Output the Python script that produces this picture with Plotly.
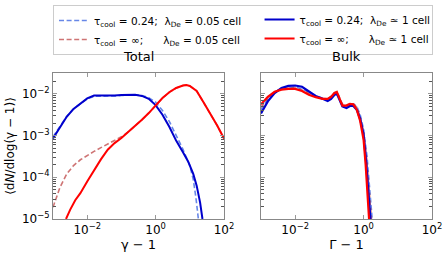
import numpy as np
import plotly.graph_objects as go
from plotly.subplots import make_subplots

# ---------------- data (log10 values) ----------------
tot_blue_solid_lx = [-3.0, -2.8, -2.6, -2.4, -2.2, -2.0, -1.8, -1.6, -1.4, -1.2, -1.0, -0.8, -0.6, -0.4, -0.2, 0.0, 0.2, 0.4, 0.6, 0.8, 0.95, 1.1, 1.2, 1.3, 1.37]
tot_blue_solid_ly = [-3.07, -2.82, -2.55, -2.36, -2.23, -2.11, -2.04, -2.04, -2.05, -2.04, -2.03, -2.02, -2.02, -2.05, -2.12, -2.27, -2.50, -2.79, -3.12, -3.40, -3.62, -3.92, -4.2, -4.6, -5.0]

tot_blue_dash_lx = [-3.0, -2.8, -2.6, -2.4, -2.2, -2.0, -1.8, -1.6, -1.4, -1.2, -1.0, -0.8, -0.6, -0.4, -0.2, 0.0, 0.2, 0.4, 0.6, 0.8, 1.0, 1.1, 1.18, 1.25]
tot_blue_dash_ly = [-3.03, -2.79, -2.54, -2.36, -2.24, -2.12, -2.06, -2.06, -2.06, -2.05, -2.04, -2.03, -2.02, -2.04, -2.09, -2.20, -2.40, -2.66, -2.98, -3.33, -3.72, -4.05, -4.5, -5.0]

tot_red_solid_lx = [-2.62, -2.5, -2.35, -2.2, -2.0, -1.8, -1.6, -1.4, -1.2, -1.0, -0.8, -0.6, -0.4, -0.2, 0.0, 0.2, 0.4, 0.6, 0.8, 0.9, 1.0, 1.2, 1.4, 1.6, 1.8, 2.0]
tot_red_solid_ly = [-5.0, -4.78, -4.55, -4.38, -4.1, -3.83, -3.57, -3.34, -3.18, -3.06, -2.92, -2.77, -2.62, -2.46, -2.27, -2.10, -1.96, -1.86, -1.80, -1.79, -1.81, -1.93, -2.20, -2.47, -2.76, -3.07]

tot_red_dash_lx = [-3.0, -2.8, -2.6, -2.4, -2.2, -2.0, -1.8, -1.6, -1.4, -1.2, -1.0, -0.8, -0.6, -0.4, -0.2, 0.0, 0.2, 0.4, 0.6, 0.8, 0.9, 1.0, 1.2, 1.4, 1.6, 1.8, 2.0]
tot_red_dash_ly = [-4.72, -4.25, -3.92, -3.72, -3.58, -3.47, -3.38, -3.29, -3.2, -3.1, -3.03, -2.91, -2.77, -2.62, -2.46, -2.27, -2.10, -1.96, -1.86, -1.80, -1.79, -1.81, -1.93, -2.20, -2.47, -2.76, -3.07]

blk_lx = [-3.0, -2.8, -2.6, -2.4, -2.2, -2.0, -1.8, -1.6, -1.4, -1.2, -1.05, -0.95, -0.85, -0.78, -0.7, -0.62, -0.5, -0.4, -0.3, -0.2, -0.1, 0.0]
blk_blue_solid_ly = [-2.47, -2.18, -1.98, -1.86, -1.81, -1.80, -1.83, -1.93, -2.05, -2.12, -2.17, -2.12, -2.02, -2.0, -2.15, -2.30, -2.34, -2.29, -2.29, -2.38, -2.60, -2.98]
blk_blue_solid_tail_lx = [0.07, 0.13, 0.2]
blk_blue_solid_tail_ly = [-3.6, -4.3, -5.0]

blk_red_solid_ly = [-2.25, -2.07, -1.95, -1.90, -1.88, -1.88, -1.93, -2.02, -2.08, -2.12, -2.12, -2.07, -1.98, -1.96, -2.12, -2.28, -2.28, -2.24, -2.25, -2.38, -2.65, -3.10]
blk_red_solid_tail_lx = [0.06, 0.11, 0.16]
blk_red_solid_tail_ly = [-3.7, -4.4, -5.0]

blk_blue_dash_ly = [-2.38, -2.12, -1.96, -1.87, -1.84, -1.84, -1.88, -1.97, -2.05, -2.10, -2.13, -2.08, -1.98, -1.96, -2.11, -2.26, -2.29, -2.25, -2.24, -2.30, -2.50, -2.85]
blk_blue_dash_tail_lx = [0.1, 0.18, 0.25]
blk_blue_dash_tail_ly = [-3.5, -4.3, -5.0]

blk_red_dash_ly = [-2.32, -2.1, -1.95, -1.88, -1.86, -1.86, -1.91, -1.99, -2.06, -2.11, -2.12, -2.06, -1.97, -1.94, -2.10, -2.25, -2.27, -2.24, -2.24, -2.32, -2.55, -2.92]
blk_red_dash_tail_lx = [0.09, 0.16, 0.23]
blk_red_dash_tail_ly = [-3.55, -4.35, -5.0]

legend_names = [
    "τ<sub>cool</sub> = 0.24;  λ<sub>De</sub> = 0.05 cell",
    "τ<sub>cool</sub> = 0.24;  λ<sub>De</sub> ≃ 1 cell",
    "τ<sub>cool</sub> = ∞;      λ<sub>De</sub> = 0.05 cell",
    "τ<sub>cool</sub> = ∞;      λ<sub>De</sub> ≃ 1 cell",
]
x_tickvals = [1e-2, 1e0, 1e2]
x_ticktext = ["10<sup>−2</sup>", "10<sup>0</sup>", "10<sup>2</sup>"]
y_tickvals = [1e-5, 1e-4, 1e-3, 1e-2]
y_ticktext = ["10<sup>−5</sup>", "10<sup>−4</sup>", "10<sup>−3</sup>", "10<sup>−2</sup>"]
panel_titles = ["Total", "Bulk"]
x_titles = ["γ − 1", "Γ − 1"]
y_title = "⟨d<i>N</i>/dlog(γ − 1)⟩"

# ---------------- styles ----------------
C_BLUE = "#0000cc"
C_BLUE_D = "rgba(65,105,225,0.8)"
C_RED = "#ff0000"
C_RED_D = "rgba(190,70,70,0.75)"
DASH = "5px,2.6px"


def p(v):
    return 10 ** np.array(v, dtype=float)


fig = make_subplots(rows=1, cols=2, horizontal_spacing=0.0975)

specs = [
    # (x, y, col, color, dash, width, name_idx, showlegend, legend)
    (tot_blue_dash_lx, tot_blue_dash_ly, 1, C_BLUE_D, DASH, 1.6, 0, True, "legend"),
    (tot_red_dash_lx, tot_red_dash_ly, 1, C_RED_D, DASH, 1.6, 2, True, "legend"),
    (tot_blue_solid_lx, tot_blue_solid_ly, 1, C_BLUE, "solid", 2, 1, True, "legend2"),
    (tot_red_solid_lx, tot_red_solid_ly, 1, C_RED, "solid", 2, 3, True, "legend2"),
    (blk_lx + blk_blue_dash_tail_lx, blk_blue_dash_ly + blk_blue_dash_tail_ly, 2, C_BLUE_D, DASH, 1.6, 0, False, "legend"),
    (blk_lx + blk_red_dash_tail_lx, blk_red_dash_ly + blk_red_dash_tail_ly, 2, C_RED_D, DASH, 1.6, 2, False, "legend"),
    (blk_lx + blk_blue_solid_tail_lx, blk_blue_solid_ly + blk_blue_solid_tail_ly, 2, C_BLUE, "solid", 2.2, 1, False, "legend2"),
    (blk_lx + blk_red_solid_tail_lx, blk_red_solid_ly + blk_red_solid_tail_ly, 2, C_RED, "solid", 2.2, 3, False, "legend2"),
]
for lx, ly, col, colr, dash, w, ni, sl, lg in specs:
    fig.add_trace(go.Scatter(x=p(lx), y=p(ly), mode="lines", name=legend_names[ni],
                             line=dict(color=colr, dash=dash, width=w),
                             showlegend=sl, legend=lg),
                  row=1, col=col)

axis_common = dict(type="log", showgrid=False, zeroline=False, showline=True,
                   linecolor="#888888", linewidth=1, mirror="allticks",
                   ticks="inside", tickcolor="#999999", ticklen=4,
                   tickfont=dict(size=12, color="black"))

for col in (1, 2):
    fig.update_xaxes(axis_common, range=[-3, 2], tickvals=x_tickvals, ticktext=x_ticktext,
                     title=dict(text=x_titles[col - 1], font=dict(size=13, color="black"), standoff=2),
                     row=1, col=col)
    fig.update_yaxes(axis_common, range=[-5, -1.5], tickvals=y_tickvals,
                     ticktext=y_ticktext if col == 1 else [""] * 4,
                     minor=dict(ticks="inside", ticklen=3, tickcolor="#555555", dtick="D1", showgrid=False),
                     row=1, col=col)
fig.update_yaxes(title=dict(text=y_title, font=dict(size=12, color="black"), standoff=4), row=1, col=1)

for i, t in enumerate(panel_titles):
    fig.add_annotation(text=t, xref="x%s domain" % ("" if i == 0 else "2"), yref="paper",
                       x=0.5, y=1.11, xanchor="center", yanchor="middle", showarrow=False,
                       font=dict(size=13, color="black"))

fig.update_layout(
    width=447, height=256,
    margin=dict(l=53, r=15, t=73, b=37, autoexpand=False),
    paper_bgcolor="white", plot_bgcolor="white",
    font=dict(family="DejaVu Sans", size=10.5, color="black"),
    legend=dict(orientation="h", x=0, xanchor="left", y=1.466, yanchor="top",
                bordercolor="#cccccc", borderwidth=1, bgcolor="white",
                entrywidth=333, entrywidthmode="pixels",
                font=dict(size=10.5), traceorder="normal"),
    legend2=dict(orientation="v", x=0.545, xanchor="left", y=1.466, yanchor="top",
                 borderwidth=0, bgcolor="rgba(0,0,0,0)",
                 font=dict(size=10.5), traceorder="normal"),
)

fig.write_html("out.html", config={"displayModeBar": False},
               post_script="document.body.style.margin='0px';")
